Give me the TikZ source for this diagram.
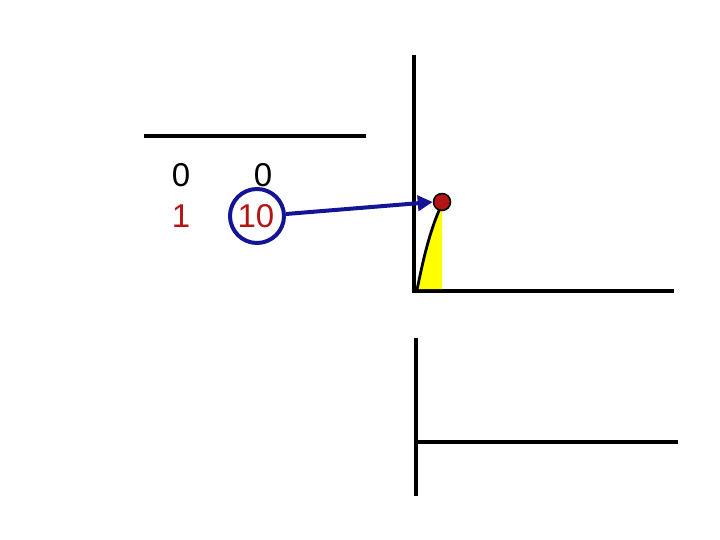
\documentclass[tikz,border=0pt]{standalone}
\usepackage{fontspec}
\setmainfont{Liberation Sans}
\usetikzlibrary{arrows.meta}
\definecolor{dred}{RGB}{180,20,20}
\definecolor{navy}{RGB}{20,20,150}
\definecolor{ylw}{RGB}{255,255,0}
\begin{document}
\begin{tikzpicture}[x=1pt,y=-1pt,
  axis/.style={line width=4pt},
  num/.style={font=\fontsize{33}{33}\selectfont, inner sep=0pt}]
\useasboundingbox (0,0) rectangle (720,540);
% top line
\draw[axis] (144,136) -- (366,136);
% numbers
\node[num] (a0) at (181,175) {0};
\node[num] (b0) at (263,175) {0};
\node[num, text=dred] (a1) at (181,216) {1};
\node[num, text=dred] (b1) at (256,216) {10};
\node[draw=navy, line width=4pt, circle, minimum size=54pt, inner sep=0pt] (circ) at (257,216) {};
% first axes
\draw[axis] (414,55) -- (414,293);
\draw[axis] (412,291) -- (674,291);
% yellow area
\fill[ylw] (418,289) .. controls (426,250) and (432,225) .. (442,208) -- (442,289) -- cycle;
\draw[line width=2.8pt] (417,290) .. controls (425,250) and (432,225) .. (442,204);
\node[circle, fill=dred, draw=black, line width=1.5pt, minimum size=17pt, inner sep=0pt] (dot) at (442,202) {};
% arrow
\draw[navy, line width=4pt, -{Triangle[length=15pt,width=15pt]}] (circ.east) ++(0,-2) -- (dot.west);
% second axes
\draw[axis] (416,338) -- (416,496);
\draw[axis] (416,442) -- (678,442);
\end{tikzpicture}
\end{document}
